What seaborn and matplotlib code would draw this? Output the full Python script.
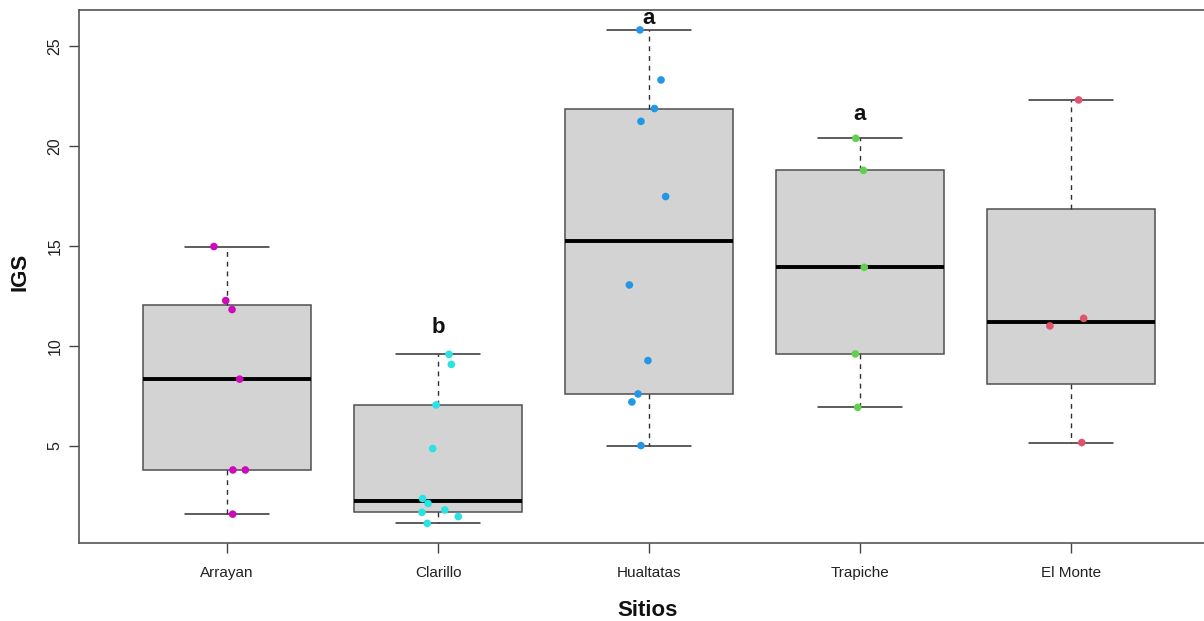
import numpy as np
import pandas as pd
import matplotlib
matplotlib.use("Agg")
import matplotlib.pyplot as plt
import seaborn as sns

# --- data -------------------------------------------------------------
sitios = ["Arrayan", "Clarillo", "Hualtatas", "Trapiche", "El Monte"]
colores = ["#CD0BBC", "#28E2E5", "#2297E6", "#61D04F", "#DF536B"]

igs_arrayan = [14.97, 12.27, 11.82, 8.34, 3.80, 3.80, 1.59]
igs_clarillo = [9.58, 9.08, 7.05, 4.87, 2.37, 2.12, 1.68, 1.80, 1.47, 1.13]
igs_hualtatas = [25.80, 23.30, 21.87, 21.23, 17.47, 13.05, 9.27, 7.60, 7.20, 5.02]
igs_trapiche = [20.38, 18.78, 13.93, 9.60, 6.93]
igs_elmonte = [22.30, 11.38, 11.00, 5.17]

# horizontal jitter of each point (in category units)
jit_arrayan = [-0.062, -0.006, 0.024, 0.060, 0.028, 0.087, 0.027]
jit_clarillo = [0.052, 0.063, -0.009, -0.025, -0.073, -0.047, -0.076, 0.032, 0.096, -0.051]
jit_hualtatas = [-0.043, 0.057, 0.026, -0.038, 0.079, -0.093, -0.005, -0.052, -0.081, -0.038]
jit_trapiche = [-0.020, 0.016, 0.020, -0.022, -0.011]
jit_elmonte = [0.036, 0.060, -0.100, 0.051]

# significance letters and the height they are written at
letras = ["", "b", "a", "a", ""]
letras_y = [np.nan, 10.9, 26.35, 21.55, np.nan]

valores = [igs_arrayan, igs_clarillo, igs_hualtatas, igs_trapiche, igs_elmonte]
jitters = [jit_arrayan, jit_clarillo, jit_hualtatas, jit_trapiche, jit_elmonte]
posiciones = np.arange(1, len(sitios) + 1)

df = pd.DataFrame({
    "Sitio": np.concatenate([[s] * len(v) for s, v in zip(sitios, valores)]),
    "IGS": np.concatenate(valores),
    "x": np.concatenate([p + np.asarray(j) for p, j in zip(posiciones, jitters)]),
})


def fivenum(v):
    """Tukey five-number summary (same rule as R's fivenum)."""
    x = np.sort(np.asarray(v, float))
    n = len(x)
    n4 = np.floor((n + 3) / 2) / 2
    d = np.array([1, n4, (n + 1) / 2, n + 1 - n4, n]) - 1
    return 0.5 * (x[np.floor(d).astype(int)] + x[np.ceil(d).astype(int)])


def box_stats(v, coef=1.5):
    x = np.asarray(v, float)
    mn, q1, med, q3, mx = fivenum(x)
    iqr = q3 - q1
    inside = x[(x >= q1 - coef * iqr) & (x <= q3 + coef * iqr)]
    return dict(med=med, q1=q1, q3=q3,
                whislo=inside.min(), whishi=inside.max(),
                fliers=x[(x < inside.min()) | (x > inside.max())])


# --- figure -----------------------------------------------------------
sns.set_style("white")
plt.rcParams["font.family"] = ["Liberation Sans", "DejaVu Sans"]

W, H = 1204, 621
fig = plt.figure(figsize=(W / 100, H / 100), dpi=100)
ax = fig.add_axes([79.3 / W, (H - 543.1) / H, 1139.4 / W, 532.9 / H])

ax.bxp([box_stats(v) for v in valores], positions=posiciones, widths=0.8,
       capwidths=0.4, patch_artist=True, showfliers=False,
       boxprops=dict(facecolor="#D3D3D3", edgecolor="#505050", linewidth=1.1),
       medianprops=dict(color="black", linewidth=2.8, solid_capstyle="butt"),
       whiskerprops=dict(color="#303030", linewidth=1.0, linestyle=(0, (3.5, 3.5))),
       capprops=dict(color="#303030", linewidth=1.1))

sns.scatterplot(data=df, x="x", y="IGS", hue="Sitio", hue_order=sitios,
                palette=dict(zip(sitios, colores)), s=30, linewidth=0,
                legend=False, zorder=4, ax=ax)

for p, letra, ly in zip(posiciones, letras, letras_y):
    if letra:
        ax.text(p, ly, letra, ha="center", va="center",
                fontsize=16, fontweight="bold", color="#111111")

# axis ranges (R-style 4% padding)
allv = df["IGS"].to_numpy()
pad = 0.04 * (allv.max() - allv.min())
ax.set_ylim(allv.min() - pad, allv.max() + pad)
ax.set_xlim(0.5 - 0.2, len(sitios) + 0.5 + 0.2)

ax.set_xticks(posiciones)
ax.set_xticklabels(sitios)
ax.set_yticks([5, 10, 15, 20, 25])
ax.set_yticklabels(["5", "10", "15", "20", "25"], rotation=90, va="center")

ax.tick_params(axis="x", length=7, width=1, color="#444444", pad=9.5,
               labelsize=11, labelcolor="#222222")
ax.tick_params(axis="y", length=7, width=1, color="#444444", pad=5,
               labelsize=11.5, labelcolor="#222222")
ax.tick_params(left=True, bottom=True)

for s in ax.spines.values():
    s.set_color("#555555")
    s.set_linewidth(1.2)
    s.set_visible(True)

ax.set_xlabel("Sitios", fontsize=16, fontweight="bold", color="#111111")
ax.set_ylabel("IGS", fontsize=16, fontweight="bold", color="#111111")
ax.xaxis.label.set_va("center")
ax.yaxis.label.set_va("center")
ax.xaxis.set_label_coords(0.4983, -(610.5 - 543.1) / 532.9)
ax.yaxis.set_label_coords((20 - 79.3) / 1139.4, (543.1 - 272) / 532.9)

fig.savefig("out.png", dpi=100, facecolor="white")
